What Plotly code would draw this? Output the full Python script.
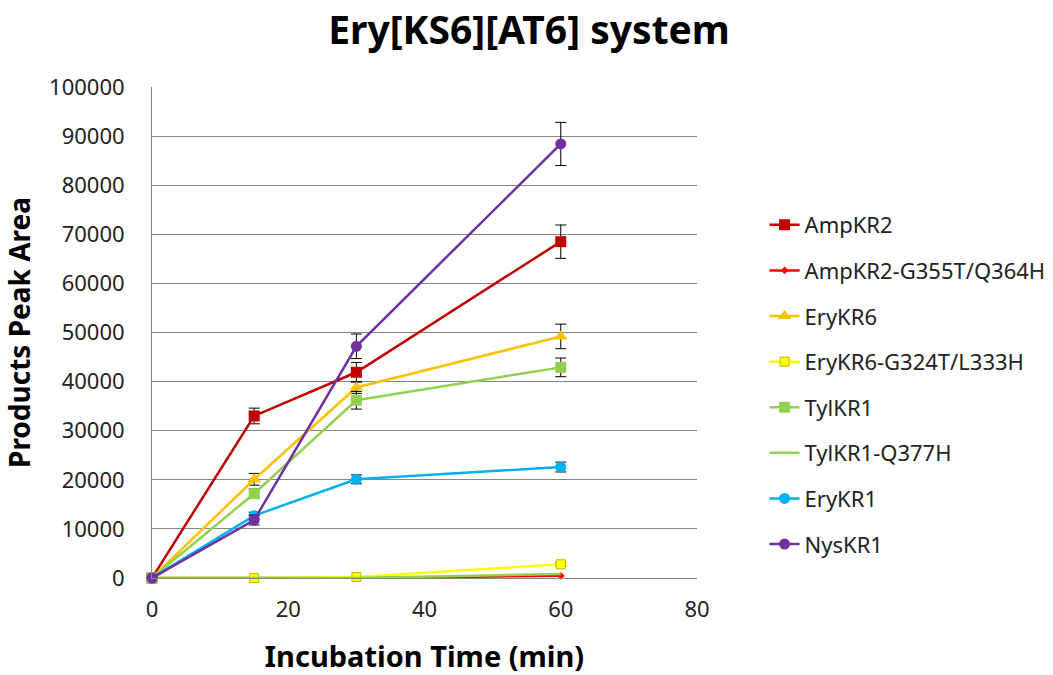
import plotly.graph_objects as go

# Incubation time points (min)
time_min = [0, 15, 30, 60]

series_names = [
    "AmpKR2",
    "AmpKR2-G355T/Q364H",
    "EryKR6",
    "EryKR6-G324T/L333H",
    "TylKR1",
    "TylKR1-Q377H",
    "EryKR1",
    "NysKR1",
]

# Products peak area for each KR domain
amp_kr2 = [0, 33000, 41900, 68500]
amp_kr2_mut = [0, 0, 0, 450]
ery_kr6 = [0, 20100, 38800, 49200]
ery_kr6_mut = [0, 0, 200, 2800]
tyl_kr1 = [0, 17200, 36200, 42900]
tyl_kr1_mut = [0, 0, 0, 800]
ery_kr1 = [0, 12700, 20100, 22600]
nys_kr1 = [0, 11800, 47200, 88400]

# Standard deviations (error bars)
amp_kr2_err = [0, 1600, 2000, 3400]
amp_kr2_mut_err = [0, 0, 0, 0]
ery_kr6_err = [0, 1200, 1200, 2500]
ery_kr6_mut_err = [0, 0, 0, 300]
tyl_kr1_err = [0, 1000, 1800, 1900]
tyl_kr1_mut_err = [0, 0, 0, 0]
ery_kr1_err = [0, 700, 900, 1000]
nys_kr1_err = [0, 1000, 2500, 4400]

values = [amp_kr2, amp_kr2_mut, ery_kr6, ery_kr6_mut, tyl_kr1, tyl_kr1_mut, ery_kr1, nys_kr1]
errors = [amp_kr2_err, amp_kr2_mut_err, ery_kr6_err, ery_kr6_mut_err,
          tyl_kr1_err, tyl_kr1_mut_err, ery_kr1_err, nys_kr1_err]

colors = ["#C00000", "#FF0000", "#FFC000", "#FFFF00", "#92D050", "#92D050", "#00B0F0", "#7030A0"]
symbols = ["square", "diamond", "triangle-up", "square", "square", None, "circle", "circle"]
sizes = [11, 6, 12, 9, 11, 0, 11, 11]
outline = [None, None, None, "#C8B400", None, None, None, None]

FONT = "Noto Sans"

fig = go.Figure()
for i, name in enumerate(series_names):
    has_err = any(e > 0 for e in errors[i])
    marker = dict(color=colors[i], size=sizes[i])
    if symbols[i] is not None:
        marker["symbol"] = symbols[i]
    if outline[i]:
        marker["line"] = dict(color=outline[i], width=1)
    fig.add_trace(go.Scatter(
        x=time_min,
        y=values[i],
        name=name,
        legendgroup=name,
        mode="lines+markers" if symbols[i] else "lines",
        line=dict(color=colors[i], width=2.5),
        marker=marker,
        error_y=dict(type="data", array=errors[i], visible=has_err,
                     color="#000000", thickness=1, width=5.5),
        cliponaxis=False,
    ))

fig.update_layout(
    width=1053,
    height=675,
    paper_bgcolor="white",
    plot_bgcolor="white",
    margin=dict(l=152, r=356, t=87, b=97, autoexpand=False),
    title=dict(
        text="<b>Ery[KS6][AT6] system</b>",
        x=529 / 1053, xanchor="center",
        y=1 - 30 / 675, yanchor="middle",
        font=dict(family=FONT, size=39, color="#000000"),
    ),
    font=dict(family=FONT, color="#222222"),
    legend=dict(
        x=1.124, xanchor="left",
        y=0.394, yanchor="middle",
        font=dict(family=FONT, size=22, color="#222222"),
        tracegroupgap=14,
        bgcolor="rgba(0,0,0,0)",
    ),
    xaxis=dict(
        range=[0, 80],
        dtick=20,
        showgrid=False,
        zeroline=False,
        showline=True,
        linecolor="#868686",
        linewidth=1,
        tickfont=dict(family=FONT, size=22, color="#222222"),
        ticklabelstandoff=12,
        title=dict(text="<b>Incubation Time (min)</b>",
                   font=dict(family=FONT, size=29, color="#000000"), standoff=25),
    ),
    yaxis=dict(
        range=[0, 100000],
        dtick=10000,
        tickformat="d",
        showgrid=True,
        gridcolor="#868686",
        gridwidth=1,
        zeroline=False,
        showline=True,
        linecolor="#868686",
        linewidth=1,
        tickfont=dict(family=FONT, size=22, color="#222222"),
        ticklabelstandoff=22,
        title=dict(text="<b>Products Peak Area</b>",
                   font=dict(family=FONT, size=28, color="#000000"), standoff=12),
    ),
)

fig.write_html("out.html")
